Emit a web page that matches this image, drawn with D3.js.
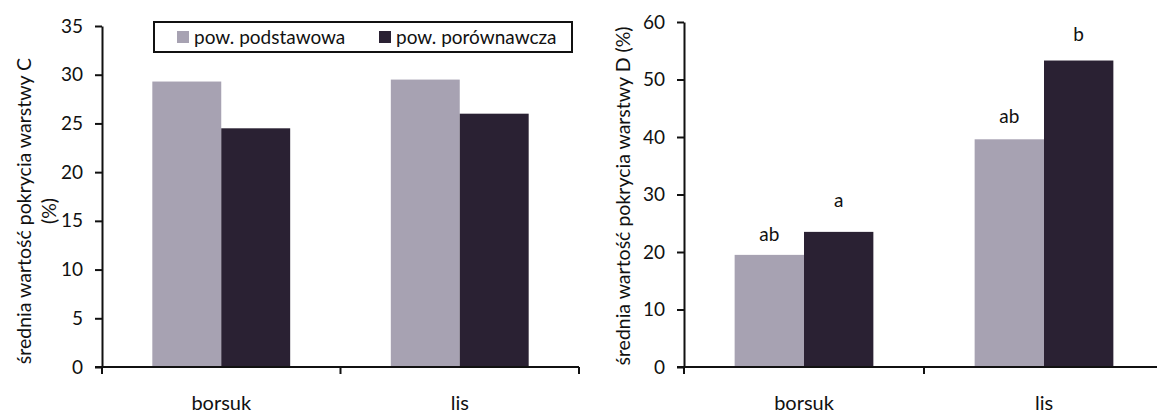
<!DOCTYPE html>
<html>
<head>
<meta charset="utf-8">
<script src="https://cdn.jsdelivr.net/npm/d3@7"></script>
<style>
  html, body { margin: 0; padding: 0; background: #fff; }
  svg { display: block; }
  text { font-family: Lato, "Open Sans", sans-serif; fill: #111; }
</style>
</head>
<body>
<svg id="chart" width="1157" height="413"></svg>
<script>
// Categories and series
const categories = ["borsuk", "lis"];
const seriesNames = ["pow. podstawowa", "pow. porównawcza"];

// Layer C coverage (%)
const layerC_podstawowa = [29.3, 29.5];
const layerC_porownawcza = [24.5, 26.0];

// Layer D coverage (%)
const layerD_podstawowa = [19.5, 39.6];
const layerD_porownawcza = [23.5, 53.3];
const layerD_podstawowa_labels = ["ab", "ab"];
const layerD_porownawcza_labels = ["a", "b"];

// Axis ticks
const ticksC = [0, 5, 10, 15, 20, 25, 30, 35];
const ticksD = [0, 10, 20, 30, 40, 50, 60];

const colors = ["#a7a2b2", "#2a2133"];
const svg = d3.select("#chart");

function drawPanel(opts) {
  const { left, right, top, bottom, yMax, ticks, values, labels, labelGaps, titleLines, titleX, titleY } = opts;
  const g = svg.append("g");

  const x0 = d3.scaleBand().domain(categories).range([left, right]).paddingInner(0).paddingOuter(0);
  const x1 = d3.scaleBand().domain(seriesNames).range([0, x0.bandwidth()]).paddingInner(0).paddingOuter(0.73);
  const y = d3.scaleLinear().domain([0, yMax]).range([bottom, top]);

  // bars
  seriesNames.forEach((s, si) => {
    g.selectAll(null).data(categories).enter().append("rect")
      .attr("x", c => x0(c) + x1(s))
      .attr("y", (c, i) => y(values[si][i]))
      .attr("width", x1.bandwidth())
      .attr("height", (c, i) => y(0) - y(values[si][i]))
      .attr("fill", colors[si]);
    if (labels) {
      // significance letters sit above the bars (space left for error whiskers)
      g.selectAll(null).data(categories).enter().append("text")
        .attr("x", c => x0(c) + x1(s) + x1.bandwidth() / 2)
        .attr("y", (c, i) => y(values[si][i]) - labelGaps[si][i])
        .attr("text-anchor", "middle")
        .attr("font-size", 19)
        .text((c, i) => labels[si][i]);
    }
  });

  // y axis
  const yAxis = d3.axisLeft(y).tickValues(ticks).tickSize(7).tickSizeOuter(0).tickPadding(12);
  const ya = g.append("g").attr("transform", `translate(${left},0)`).call(yAxis);
  ya.select(".domain").attr("stroke", "#111").attr("stroke-width", 2);
  ya.selectAll(".tick line").attr("stroke", "#111").attr("stroke-width", 2);
  ya.selectAll(".tick text").attr("font-size", 19).style("font-family", "Lato, sans-serif").attr("fill", "#111");

  // x axis with ticks on category boundaries
  g.append("line").attr("x1", left - 7).attr("x2", right).attr("y1", bottom).attr("y2", bottom)
    .attr("stroke", "#111").attr("stroke-width", 2);
  const bounds = categories.map(c => x0(c)).concat([x0.range()[1]]);
  g.selectAll(null).data(bounds).enter().append("line")
    .attr("x1", d => d).attr("x2", d => d).attr("y1", bottom).attr("y2", bottom + 7)
    .attr("stroke", "#111").attr("stroke-width", 2);
  g.selectAll(null).data(categories).enter().append("text")
    .attr("x", c => x0(c) + x0.bandwidth() / 2)
    .attr("y", bottom + 43)
    .attr("text-anchor", "middle")
    .attr("font-size", 20)
    .text(c => c);

  // axis title
  const t = g.append("text")
    .attr("transform", `translate(${titleX},${titleY}) rotate(-90)`)
    .attr("text-anchor", "middle")
    .attr("font-size", 19.5);
  titleLines.forEach((line, i) => {
    t.append("tspan").attr("x", 0).attr("dy", i === 0 ? 0 : 25).text(line);
  });
}

drawPanel({
  left: 102, right: 579, top: 26, bottom: 367, yMax: 35, ticks: ticksC,
  values: [layerC_podstawowa, layerC_porownawcza], labels: null,
  titleLines: ["średnia wartość pokrycia warstwy C", "(%)"], titleX: 31, titleY: 211
});

drawPanel({
  left: 684, right: 1164, top: 22, bottom: 367, yMax: 60, ticks: ticksD,
  values: [layerD_podstawowa, layerD_porownawcza],
  labels: [layerD_podstawowa_labels, layerD_porownawcza_labels],
  labelGaps: [[14, 16], [25, 20]],
  titleLines: ["średnia wartość pokrycia warstwy D (%)"], titleX: 630, titleY: 196
});

// legend
const legend = svg.append("g");
legend.append("rect").attr("x", 154).attr("y", 22).attr("width", 418).attr("height", 30)
  .attr("fill", "#fff").attr("stroke", "#111").attr("stroke-width", 2);
const legendX = [177, 379];
seriesNames.forEach((s, i) => {
  legend.append("rect").attr("x", legendX[i]).attr("y", 31).attr("width", 12).attr("height", 12).attr("fill", colors[i]);
  legend.append("text").attr("x", legendX[i] + 17).attr("y", 44).attr("font-size", 19).text(s);
});
</script>
</body>
</html>
